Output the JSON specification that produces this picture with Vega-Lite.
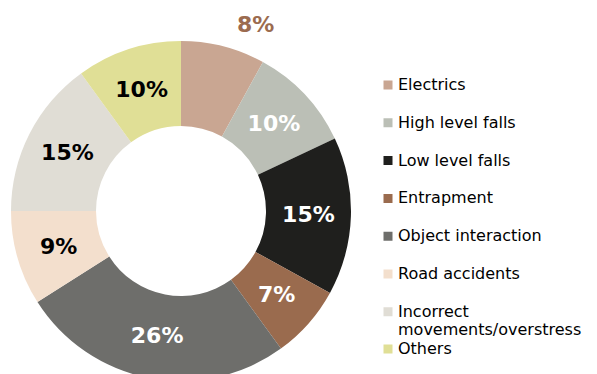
{
  "$schema": "https://vega.github.io/schema/vega-lite/v6.json",
  "width": 362,
  "height": 422,
  "autosize": "none",
  "padding": {"left": 0, "top": 0, "right": 235, "bottom": -48},
  "background": "white",
  "config": {"view": {"stroke": null}, "font": "DejaVu Sans"},
  "data": {
    "values": [
      {"cause": "Electrics", "share": 0.08, "order": 1},
      {"cause": "High level falls", "share": 0.10, "order": 2},
      {"cause": "Low level falls", "share": 0.15, "order": 3},
      {"cause": "Entrapment", "share": 0.07, "order": 4},
      {"cause": "Object interaction", "share": 0.26, "order": 5},
      {"cause": "Road accidents", "share": 0.09, "order": 6},
      {"cause": "Incorrect movements/overstress", "share": 0.15, "order": 7},
      {"cause": "Others", "share": 0.10, "order": 8}
    ]
  },
  "encoding": {
    "theta": {"field": "share", "type": "quantitative", "stack": true},
    "order": {"field": "order", "type": "quantitative"}
  },
  "layer": [
    {
      "mark": {"type": "arc", "radius": 170, "radius2": 85, "strokeWidth": 0},
      "encoding": {
        "fill": {
          "field": "cause",
          "type": "nominal",
          "sort": null,
          "scale": {
            "domain": ["Electrics", "High level falls", "Low level falls", "Entrapment", "Object interaction", "Road accidents", "Incorrect movements/overstress", "Others"],
            "range": ["#c9a692", "#bbbfb6", "#1f1f1d", "#9a6b4e", "#6e6e6b", "#f3dfcd", "#e0ddd5", "#e0df96"]
          },
          "legend": {
            "title": null,
            "orient": "none",
            "legendX": 380,
            "legendY": 77,
            "padding": 0,
            "values": ["Electrics", "High level falls", "Low level falls", "Entrapment", "Object interaction", "Road accidents", "Incorrect movements/overstress"],
            "symbolType": "square",
            "symbolSize": 81,
            "symbolStrokeWidth": 0,
            "labelFont": "DejaVu Sans",
            "labelFontSize": 16,
            "labelColor": "#000000",
            "labelOffset": 2,
            "labelLimit": 300,
            "clipHeight": 16,
            "rowPadding": 21.8,
            "labelExpr": "datum.label == 'Incorrect movements/overstress' ? ['Incorrect', 'movements/overstress'] : datum.label"
          }
        },
        "stroke": {
          "field": "cause",
          "type": "nominal",
          "scale": {"domain": ["Others"], "range": ["#e0df96"]},
          "legend": {
            "title": null,
            "orient": "none",
            "legendX": 380,
            "legendY": 341,
            "padding": 0,
            "symbolType": "square",
            "symbolSize": 81,
            "symbolStrokeWidth": 0,
            "symbolFillColor": "#e0df96",
            "labelFont": "DejaVu Sans",
            "labelFontSize": 16,
            "labelColor": "#000000",
            "labelOffset": 2,
            "clipHeight": 16
          }
        }
      }
    },
    {
      "mark": {"type": "text", "radius": 127.5, "fontSize": 22, "fontWeight": "bold", "font": "DejaVu Sans"},
      "encoding": {
        "text": {
          "condition": {"test": "datum.cause !== 'Electrics'", "field": "share", "type": "quantitative", "format": ".0%"},
          "value": ""
        },
        "fill": {
          "condition": {"test": "datum.cause === 'Road accidents' || datum.cause === 'Incorrect movements/overstress' || datum.cause === 'Others'", "value": "#000000"},
          "value": "#ffffff"
        }
      }
    },
    {
      "mark": {"type": "text", "radius": 200, "dx": 25, "dy": 8, "fontSize": 22, "fontWeight": "bold", "font": "DejaVu Sans", "fill": "#9b6b4f"},
      "encoding": {
        "text": {
          "condition": {"test": "datum.cause === 'Electrics'", "field": "share", "type": "quantitative", "format": ".0%"},
          "value": ""
        }
      }
    }
  ]
}
